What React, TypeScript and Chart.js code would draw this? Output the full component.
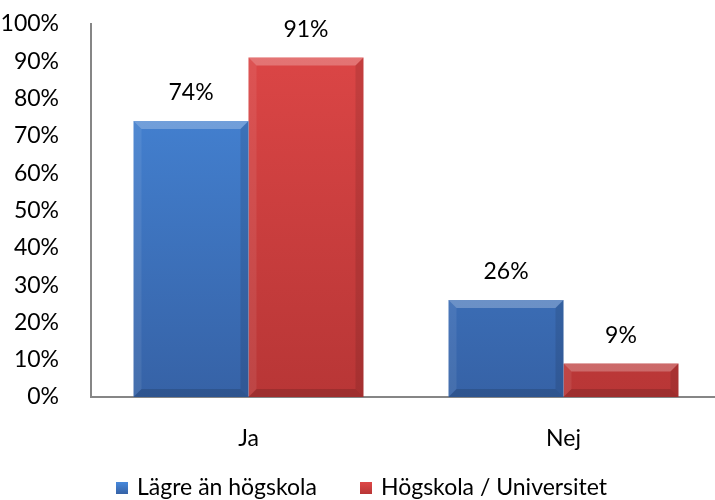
import React, { useEffect, useRef } from "react";
import { Chart, registerables } from "chart.js";

Chart.register(...registerables);

const categories = ["Ja", "Nej"];
const seriesNames = ["Lägre än högskola", "Högskola / Universitet"];
const lowerValues = [74, 26];
const higherValues = [91, 9];
const yTicks = [0, 10, 20, 30, 40, 50, 60, 70, 80, 90, 100];

const FONT = "Lato, 'Open Sans', sans-serif";
const FS = 23;
const COLORS = [
  { top: "#4789dc", bottom: "#3662a6", flat: "#3f7acb" },
  { top: "#de4747", bottom: "#b83636", flat: "#d04040" },
];

function bevelPlugin() {
  return {
    id: "bevel",
    afterDatasetsDraw(chart: any) {
      const ctx = chart.ctx;
      chart.data.datasets.forEach((_: any, di: number) => {
        const meta = chart.getDatasetMeta(di);
        meta.data.forEach((bar: any) => {
          const { x, y, base, width } = bar.getProps(["x", "y", "base", "width"], true);
          const l = x - width / 2;
          const r = x + width / 2;
          const t = y;
          const b = base;
          const bv = Math.min(8, (b - t) / 2);
          ctx.save();
          ctx.fillStyle = "rgba(255,255,255,0.25)";
          ctx.beginPath();
          ctx.moveTo(l, t); ctx.lineTo(r, t); ctx.lineTo(r - bv, t + bv); ctx.lineTo(l + bv, t + bv); ctx.closePath(); ctx.fill();
          ctx.fillStyle = "rgba(255,255,255,0.08)";
          ctx.beginPath();
          ctx.moveTo(l, t); ctx.lineTo(l + bv, t + bv); ctx.lineTo(l + bv, b - bv); ctx.lineTo(l, b); ctx.closePath(); ctx.fill();
          ctx.fillStyle = "rgba(0,0,0,0.10)";
          ctx.beginPath();
          ctx.moveTo(r, t); ctx.lineTo(r - bv, t + bv); ctx.lineTo(r - bv, b - bv); ctx.lineTo(r, b); ctx.closePath(); ctx.fill();
          ctx.fillStyle = "rgba(0,0,0,0.14)";
          ctx.beginPath();
          ctx.moveTo(l, b); ctx.lineTo(r, b); ctx.lineTo(r - bv, b - bv); ctx.lineTo(l + bv, b - bv); ctx.closePath(); ctx.fill();
          ctx.restore();
        });
      });
    },
  };
}

function labelPlugin() {
  return {
    id: "valueLabels",
    afterDatasetsDraw(chart: any) {
      const ctx = chart.ctx;
      ctx.save();
      ctx.font = `${FS}px ${FONT}`;
      ctx.fillStyle = "#000";
      ctx.textAlign = "center";
      ctx.textBaseline = "middle";
      chart.data.datasets.forEach((ds: any, di: number) => {
        const meta = chart.getDatasetMeta(di);
        meta.data.forEach((bar: any, i: number) => {
          ctx.fillText(ds.data[i] + "%", bar.x, bar.y - 28);
        });
      });
      ctx.restore();
    },
  };
}

function legendPlugin() {
  return {
    id: "customLegend",
    afterDraw(chart: any) {
      const ctx = chart.ctx;
      ctx.save();
      ctx.font = `${FS}px ${FONT}`;
      ctx.textBaseline = "middle";
      ctx.textAlign = "left";
      const cy = 488;
      const starts = [116, 360];
      seriesNames.forEach((name, i) => {
        const xPos = starts[i];
        const g = ctx.createLinearGradient(0, cy - 6, 0, cy + 6);
        g.addColorStop(0, COLORS[i].top);
        g.addColorStop(1, COLORS[i].bottom);
        ctx.fillStyle = g;
        ctx.fillRect(xPos, cy - 6, 12, 12);
        ctx.fillStyle = "#000";
        ctx.fillText(name, xPos + 21, cy);
      });
      ctx.restore();
    },
  };
}

export default function App() {
  const ref = useRef<HTMLCanvasElement | null>(null);
  useEffect(() => {
    if (!ref.current) return;
    const grad = (i: number) => (c: any) => {
      const area = c.chart.chartArea;
      if (!area) return COLORS[i].flat;
      const g = c.chart.ctx.createLinearGradient(0, area.top, 0, area.bottom);
      g.addColorStop(0, COLORS[i].top);
      g.addColorStop(1, COLORS[i].bottom);
      return g;
    };
    const chart = new Chart(ref.current, {
      type: "bar",
      data: {
        labels: categories,
        datasets: [
          { label: seriesNames[0], data: lowerValues, backgroundColor: grad(0), borderWidth: 0 },
          { label: seriesNames[1], data: higherValues, backgroundColor: grad(1), borderWidth: 0 },
        ],
      },
      options: {
        animation: false,
        responsive: false,
        maintainAspectRatio: false,
        layout: { padding: { top: 24, right: 9, bottom: 0, left: 0 } },
        plugins: { legend: { display: false }, tooltip: { enabled: false } },
        datasets: { bar: { barPercentage: 1, categoryPercentage: 0.73 } },
        scales: {
          x: {
            grid: { display: false },
            border: { display: true, color: "#868686", width: 2 },
            ticks: { font: { family: FONT, size: FS }, color: "#000", padding: 20 },
            afterFit: (s: any) => { s.height = 103; s.paddingLeft = 0; s.paddingRight = 0; },
          },
          y: {
            min: 0,
            max: 100,
            afterBuildTicks: (s: any) => { s.ticks = yTicks.map((v) => ({ value: v })); },
            grid: { display: false },
            border: { display: true, color: "#868686", width: 2 },
            ticks: { font: { family: FONT, size: FS }, color: "#000", padding: 24, callback: (v: any) => v + "%" },
            afterFit: (s: any) => { s.width = 91; s.paddingTop = 0; s.paddingBottom = 0; },
          },
        },
      },
      plugins: [bevelPlugin(), labelPlugin(), legendPlugin()],
    } as any);
    return () => chart.destroy();
  }, []);
  return (
    <div style={{ position: "fixed", left: 0, top: 0, width: 715, height: 500, overflow: "hidden", background: "#fff" }}>
      <canvas ref={ref} width={730} height={500} style={{ display: "block", width: 730, height: 500 }} />
    </div>
  );
}
